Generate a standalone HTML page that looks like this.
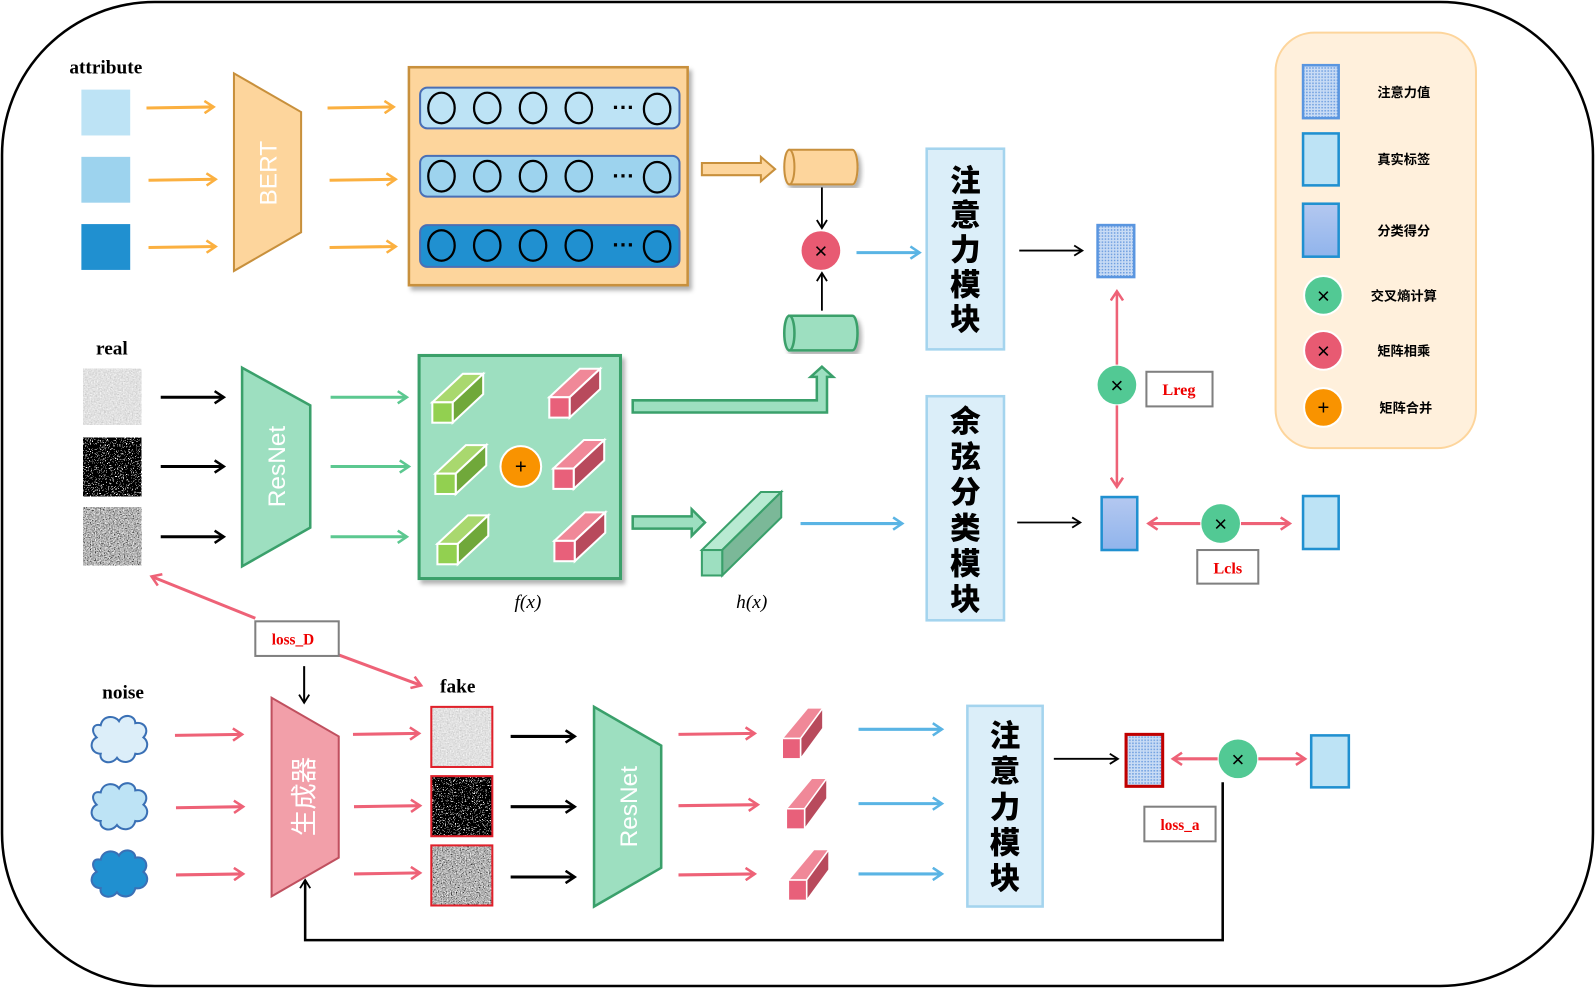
<!DOCTYPE html>
<html><head><meta charset="utf-8"><style>
html,body{margin:0;padding:0;background:#fff}
svg{display:block}
text{font-family:"Liberation Sans","Noto Sans CJK SC",sans-serif}
.serif{font-family:"Liberation Serif","Noto Serif CJK SC",serif}
.cjk{font-family:"Liberation Sans","Noto Sans CJK SC",sans-serif;font-weight:900}
</style></head><body>
<svg width="1595" height="988" viewBox="0 0 1568 970" preserveAspectRatio="none" xmlns="http://www.w3.org/2000/svg">
<defs>
<marker id="mo" markerWidth="14" markerHeight="14" refX="11" refY="7" orient="auto" markerUnits="userSpaceOnUse"><path d="M2,1 L11,7 L2,13" fill="none" stroke="#fbb040" stroke-width="2.5"/></marker>
<marker id="mk" markerWidth="14" markerHeight="14" refX="11" refY="7" orient="auto" markerUnits="userSpaceOnUse"><path d="M2,1 L11,7 L2,13" fill="none" stroke="#000" stroke-width="2.5"/></marker>
<marker id="mk2" markerWidth="12" markerHeight="12" refX="10" refY="6" orient="auto" markerUnits="userSpaceOnUse"><path d="M2,1 L10,6 L2,11" fill="none" stroke="#000" stroke-width="1.8"/></marker>
<marker id="mg" markerWidth="14" markerHeight="14" refX="11" refY="7" orient="auto" markerUnits="userSpaceOnUse"><path d="M2,1 L11,7 L2,13" fill="none" stroke="#5cc890" stroke-width="2.5"/></marker>
<marker id="mb" markerWidth="14" markerHeight="14" refX="11" refY="7" orient="auto" markerUnits="userSpaceOnUse"><path d="M2,1 L11,7 L2,13" fill="none" stroke="#5ab4e4" stroke-width="2.5"/></marker>
<marker id="mp" markerWidth="14" markerHeight="14" refX="11" refY="7" orient="auto" markerUnits="userSpaceOnUse"><path d="M2,1 L11,7 L2,13" fill="none" stroke="#ee6277" stroke-width="2.5"/></marker>
<pattern id="dots" width="3" height="3" patternUnits="userSpaceOnUse"><rect width="3" height="3" fill="#c9dcf5"/><rect width="1.5" height="1.5" fill="#6f9fe0"/></pattern>
<linearGradient id="cls" x1="0" y1="0" x2="0" y2="1"><stop offset="0" stop-color="#b4c8f0"/><stop offset="1" stop-color="#90b4ec"/></linearGradient>
<filter id="n1" x="0" y="0" width="1" height="1"><feTurbulence type="fractalNoise" baseFrequency="0.7" numOctaves="2" seed="3"/><feColorMatrix values="0.3 0.3 0.3 0 0.3 0.3 0.3 0.3 0 0.3 0.3 0.3 0.3 0 0.3 0 0 0 0 1"/></filter>
<filter id="n2" x="0" y="0" width="1" height="1"><feTurbulence type="fractalNoise" baseFrequency="0.9" numOctaves="1" seed="7"/><feColorMatrix values="1 1 1 0 -1.2 1 1 1 0 -1.2 1 1 1 0 -1.2 0 0 0 0 1"/><feComponentTransfer><feFuncR type="discrete" tableValues="0 1"/><feFuncG type="discrete" tableValues="0 1"/><feFuncB type="discrete" tableValues="0 1"/></feComponentTransfer></filter>
<filter id="n3" x="0" y="0" width="1" height="1"><feTurbulence type="fractalNoise" baseFrequency="0.8" numOctaves="2" seed="11"/><feColorMatrix values="0.9 0.9 0.9 0 -0.9 0.9 0.9 0.9 0 -0.9 0.9 0.9 0.9 0 -0.9 0 0 0 0 1"/></filter>
<filter id="sh"><feDropShadow dx="3" dy="4" stdDeviation="2" flood-opacity="0.3"/></filter>
<g id="gc"><polygon points="0,28 30,0 50,0 20,28" fill="#a9d86e" stroke="#fff" stroke-width="2"/><polygon points="20,28 50,0 50,20 20,48" fill="#70a83a" stroke="#fff" stroke-width="2"/><rect x="0" y="28" width="20" height="20" fill="#92d050" stroke="#fff" stroke-width="2"/></g>
<g id="rc"><polygon points="0,28 30,0 50,0 20,28" fill="#f08898" stroke="#fff" stroke-width="2"/><polygon points="20,28 50,0 50,20 20,48" fill="#b84a5c" stroke="#fff" stroke-width="2"/><rect x="0" y="28" width="20" height="20" fill="#e8607a" stroke="#fff" stroke-width="2"/></g>
<g id="rc2"><polygon points="0,30 25,0 40,0 18,30" fill="#f08898" stroke="#fff" stroke-width="1.5"/><polygon points="18,30 40,0 40,20 18,50" fill="#b84a5c" stroke="#fff" stroke-width="1.5"/><rect x="0" y="30" width="18" height="20" fill="#e8607a" stroke="#fff" stroke-width="1.5"/></g>
<path id="cloud" d="M-20,-14 C-18,-24 -6,-24 -2,-18 C2,-26 14,-24 14,-16 C24,-18 28,-8 22,-2 C30,4 24,16 14,14 C12,24 0,24 -4,18 C-10,26 -22,22 -20,14 C-30,14 -32,2 -24,-2 C-30,-8 -28,-16 -20,-14 Z"/>
</defs>

<rect x="2" y="2" width="1564" height="966" rx="150" ry="150" fill="#fff" stroke="#000" stroke-width="2.5"/>

<text x="104" y="72" class="serif" font-size="19" font-weight="bold" text-anchor="middle">attribute</text>
<rect x="80" y="88" width="48" height="45" fill="#bde3f5"/>
<rect x="80" y="154" width="48" height="45" fill="#9dd3ee"/>
<rect x="80" y="220" width="48" height="45" fill="#2090d0"/>
<g stroke="#fbb040" stroke-width="3" marker-end="url(#mo)">
<line x1="144" y1="106" x2="210" y2="105"/><line x1="146" y1="177" x2="212" y2="176"/><line x1="146" y1="243" x2="212" y2="242"/>
<line x1="322" y1="106" x2="387" y2="105"/><line x1="324" y1="177" x2="389" y2="176"/><line x1="324" y1="243" x2="389" y2="242"/>
</g>
<polygon points="230,72 296,110 296,228 230,266" fill="#fdd59c" stroke="#c8903c" stroke-width="2"/>
<text transform="translate(272,170) rotate(-90)" fill="#fff" font-size="24" text-anchor="middle">BERT</text>

<rect x="402" y="66" width="274" height="214" fill="#fdd59c" stroke="#c8903c" stroke-width="2.5" filter="url(#sh)"/>
<g stroke="#4a6fb5" stroke-width="2">
<rect x="413" y="86" width="255" height="40" rx="7" fill="#bde3f5"/>
<rect x="413" y="153" width="255" height="40" rx="7" fill="#9dd3ee"/>
<rect x="413" y="221" width="255" height="41" rx="7" fill="#2090d0"/>
</g>
<g fill="none" stroke="#000" stroke-width="2.2">
<ellipse cx="434" cy="106" rx="13" ry="15"/><ellipse cx="479" cy="106" rx="13" ry="15"/><ellipse cx="524" cy="106" rx="13" ry="15"/><ellipse cx="569" cy="106" rx="13" ry="15"/><ellipse cx="646" cy="107" rx="13" ry="15"/>
<ellipse cx="434" cy="173" rx="13" ry="15"/><ellipse cx="479" cy="173" rx="13" ry="15"/><ellipse cx="524" cy="173" rx="13" ry="15"/><ellipse cx="569" cy="173" rx="13" ry="15"/><ellipse cx="646" cy="174" rx="13" ry="15"/>
<ellipse cx="434" cy="241" rx="13" ry="15"/><ellipse cx="479" cy="241" rx="13" ry="15"/><ellipse cx="524" cy="241" rx="13" ry="15"/><ellipse cx="569" cy="241" rx="13" ry="15"/><ellipse cx="646" cy="242" rx="13" ry="15"/>
</g>
<g font-size="22" font-weight="bold" text-anchor="middle"><text x="613" y="113">···</text><text x="613" y="180">···</text><text x="613" y="248">···</text></g>

<polygon points="690,160 748,160 748,154 762,166 748,178 748,172 690,172" fill="#fdd59c" stroke="#c8903c" stroke-width="2"/>
<g filter="url(#sh)"><path d="M776,147 L838,147 A5,17 0 0 1 838,181 L776,181 Z" fill="#fdd59c" stroke="#c8903c" stroke-width="2"/><ellipse cx="776" cy="164" rx="5" ry="17" fill="#fdd59c" stroke="#c8903c" stroke-width="2"/></g>
<line x1="808" y1="184" x2="808" y2="224" stroke="#000" stroke-width="1.8" marker-end="url(#mk2)"/>
<circle cx="807" cy="246" r="19" fill="#e85a72"/>
<text x="807" y="254" font-size="22" text-anchor="middle">×</text>
<line x1="808" y1="305" x2="808" y2="268" stroke="#000" stroke-width="1.8" marker-end="url(#mk2)"/>
<g filter="url(#sh)"><path d="M776,310 L838,310 A5,17 0 0 1 838,344 L776,344 Z" fill="#9ddfc0" stroke="#3aa06b" stroke-width="2.5"/><ellipse cx="776" cy="327" rx="5" ry="17" fill="#9ddfc0" stroke="#3aa06b" stroke-width="2.5"/></g>
<line x1="842" y1="248" x2="904" y2="248" stroke="#5ab4e4" stroke-width="3" marker-end="url(#mb)"/>

<rect x="911" y="146" width="76" height="197" fill="#dbeef9" stroke="#a4d4ee" stroke-width="2.5"/>
<g class="cjk" font-size="30" text-anchor="middle"><text x="949" y="188">注</text><text x="949" y="222">意</text><text x="949" y="256">力</text><text x="949" y="290">模</text><text x="949" y="324">块</text></g>
<line x1="1002" y1="246" x2="1064" y2="246" stroke="#000" stroke-width="1.8" marker-end="url(#mk2)"/>
<rect x="1079" y="221" width="36" height="51" fill="url(#dots)" stroke="#5a96e0" stroke-width="2.5"/>
<g stroke="#ee6277" stroke-width="2.5"><line x1="1098" y1="358" x2="1098" y2="286" marker-end="url(#mp)"/><line x1="1098" y1="398" x2="1098" y2="478" marker-end="url(#mp)"/></g>
<circle cx="1098" cy="378" r="19" fill="#52c994"/>
<text x="1098" y="386" font-size="22" text-anchor="middle">×</text>
<rect x="1127" y="365" width="65" height="34" fill="#fff" stroke="#808080" stroke-width="2"/>
<text x="1159" y="388" class="serif" font-size="16" font-weight="bold" fill="#e00" text-anchor="middle">Lreg</text>

<rect x="1254" y="32" width="197" height="408" rx="38" fill="#fff0dc" stroke="#fdd59c" stroke-width="2"/>
<rect x="1281" y="64" width="35" height="52" fill="url(#dots)" stroke="#5a96e0" stroke-width="2.5"/>
<rect x="1281" y="131" width="35" height="51" fill="#bde3f5" stroke="#2090d0" stroke-width="2.5"/>
<rect x="1281" y="200" width="35" height="52" fill="url(#cls)" stroke="#2090d0" stroke-width="2.5"/>
<circle cx="1301" cy="290" r="19" fill="#52c994" stroke="#fff" stroke-width="2"/><text x="1301" y="298" font-size="22" text-anchor="middle">×</text>
<circle cx="1301" cy="344" r="19" fill="#e85a72" stroke="#fff" stroke-width="2"/><text x="1301" y="352" font-size="22" text-anchor="middle">×</text>
<circle cx="1301" cy="400" r="19" fill="#f99300" stroke="#fff" stroke-width="2"/><text x="1301" y="407" font-size="20" text-anchor="middle">+</text>
<g font-size="13" text-anchor="middle" font-weight="bold"><text x="1380" y="95">注意力值</text><text x="1380" y="161">真实标签</text><text x="1380" y="231">分类得分</text><text x="1380" y="295">交叉熵计算</text><text x="1380" y="349">矩阵相乘</text><text x="1382" y="405">矩阵合并</text></g>

<text x="110" y="348" class="serif" font-size="19" font-weight="bold" text-anchor="middle">real</text>
<rect x="82" y="362" width="57" height="55" filter="url(#n1)"/>
<rect x="82" y="430" width="57" height="57" filter="url(#n2)"/>
<rect x="82" y="498" width="57" height="57" filter="url(#n3)"/>
<g stroke="#000" stroke-width="3" marker-end="url(#mk)"><line x1="158" y1="390" x2="220" y2="390"/><line x1="158" y1="458" x2="220" y2="458"/><line x1="158" y1="527" x2="220" y2="527"/></g>
<polygon points="238,361 305,398 305,518 238,556" fill="#9ddfc0" stroke="#3aa06b" stroke-width="2.5"/>
<text transform="translate(280,458) rotate(-90)" fill="#fff" font-size="24" text-anchor="middle">ResNet</text>
<g stroke="#5cc890" stroke-width="3" marker-end="url(#mg)"><line x1="325" y1="390" x2="400" y2="390"/><line x1="325" y1="458" x2="402" y2="458"/><line x1="325" y1="527" x2="400" y2="527"/></g>
<rect x="412" y="349" width="198" height="219" fill="#9ddfc0" stroke="#3aa06b" stroke-width="3" filter="url(#sh)"/>
<use href="#gc" x="425" y="367"/><use href="#gc" x="428" y="437"/><use href="#gc" x="430" y="506"/>
<use href="#rc" x="540" y="362"/><use href="#rc" x="544" y="432"/><use href="#rc" x="545" y="503"/>
<circle cx="512" cy="458" r="20" fill="#f99300" stroke="#fff" stroke-width="2"/><text x="512" y="465" font-size="20" text-anchor="middle">+</text>
<polygon points="622,393 803,393 803,370 797,370 808,360 819,370 813,370 813,405 622,405" fill="#9ddfc0" stroke="#3aa06b" stroke-width="2.5"/>
<polygon points="622,507 680,507 680,500 693,513 680,526 680,519 622,519" fill="#9ddfc0" stroke="#3aa06b" stroke-width="2.5"/>
<polygon points="690,540 748,483 768,483 710,540" fill="#b8ead2" stroke="#3aa06b" stroke-width="2"/>
<polygon points="710,540 768,483 768,508 710,565" fill="#7bb898" stroke="#3aa06b" stroke-width="2"/>
<rect x="690" y="540" width="20" height="25" fill="#9ddfc0" stroke="#3aa06b" stroke-width="2"/>
<text x="519" y="597" class="serif" font-size="19" font-style="italic" text-anchor="middle">f(x)</text>
<text x="739" y="597" class="serif" font-size="19" font-style="italic" text-anchor="middle">h(x)</text>
<line x1="787" y1="514" x2="887" y2="514" stroke="#5ab4e4" stroke-width="3" marker-end="url(#mb)"/>

<rect x="911" y="389" width="76" height="220" fill="#dbeef9" stroke="#a4d4ee" stroke-width="2.5"/>
<g class="cjk" font-size="30" text-anchor="middle"><text x="949" y="424">余</text><text x="949" y="459">弦</text><text x="949" y="494">分</text><text x="949" y="529">类</text><text x="949" y="564">模</text><text x="949" y="599">块</text></g>
<line x1="1000" y1="513" x2="1062" y2="513" stroke="#000" stroke-width="1.8" marker-end="url(#mk2)"/>
<rect x="1083" y="488" width="35" height="52" fill="url(#cls)" stroke="#2090d0" stroke-width="2.5"/>
<g stroke="#ee6277" stroke-width="3"><line x1="1180" y1="514" x2="1129" y2="514" marker-end="url(#mp)"/><line x1="1220" y1="514" x2="1268" y2="514" marker-end="url(#mp)"/></g>
<circle cx="1200" cy="514" r="19" fill="#52c994"/><text x="1200" y="522" font-size="22" text-anchor="middle">×</text>
<rect x="1281" y="487" width="35" height="52" fill="#bde3f5" stroke="#2090d0" stroke-width="2.5"/>
<rect x="1177" y="540" width="60" height="33" fill="#fff" stroke="#808080" stroke-width="2"/>
<text x="1207" y="563" class="serif" font-size="16" font-weight="bold" fill="#e00" text-anchor="middle">Lcls</text>

<g stroke="#ee6277" stroke-width="3"><line x1="251" y1="607" x2="149" y2="566" marker-end="url(#mp)"/><line x1="333" y1="643" x2="414" y2="673" marker-end="url(#mp)"/></g>
<rect x="251" y="610" width="82" height="34" fill="#fff" stroke="#808080" stroke-width="2"/>
<text x="288" y="633" class="serif" font-size="15" font-weight="bold" fill="#e00" text-anchor="middle">loss_D</text>
<line x1="299" y1="654" x2="299" y2="690" stroke="#000" stroke-width="2" marker-end="url(#mk2)"/>

<text x="121" y="686" class="serif" font-size="19" font-weight="bold" text-anchor="middle">noise</text>
<text x="450" y="680" class="serif" font-size="19" font-weight="bold" text-anchor="middle">fake</text>
<use href="#cloud" transform="translate(119,726)" fill="#dceef9" stroke="#3a70b5" stroke-width="2"/>
<use href="#cloud" transform="translate(119,792)" fill="#bde3f5" stroke="#3a70b5" stroke-width="2"/>
<use href="#cloud" transform="translate(119,858)" fill="#2090d0" stroke="#3a70b5" stroke-width="2"/>
<g stroke="#ee6277" stroke-width="3" marker-end="url(#mp)">
<line x1="172" y1="722" x2="238" y2="721"/><line x1="173" y1="793" x2="239" y2="792"/><line x1="173" y1="859" x2="239" y2="858"/>
<line x1="347" y1="721" x2="412" y2="720"/><line x1="348" y1="792" x2="413" y2="791"/><line x1="348" y1="858" x2="413" y2="857"/>
<line x1="667" y1="721" x2="742" y2="720"/><line x1="667" y1="791" x2="745" y2="790"/><line x1="667" y1="859" x2="742" y2="858"/>
</g>
<polygon points="267,685 333,723 333,842 267,880" fill="#f29fa9" stroke="#c0505f" stroke-width="2"/>
<text transform="translate(308,782) rotate(-90)" fill="#fff" font-size="26" text-anchor="middle" font-family="'Noto Sans CJK SC',sans-serif">生成器</text>
<rect x="424" y="694" width="60" height="59" filter="url(#n1)"/><rect x="424" y="694" width="60" height="59" fill="none" stroke="#e0202a" stroke-width="2"/>
<rect x="424" y="762" width="60" height="59" filter="url(#n2)"/><rect x="424" y="762" width="60" height="59" fill="none" stroke="#e0202a" stroke-width="2"/>
<rect x="424" y="830" width="60" height="59" filter="url(#n3)"/><rect x="424" y="830" width="60" height="59" fill="none" stroke="#e0202a" stroke-width="2"/>
<g stroke="#000" stroke-width="3" marker-end="url(#mk)"><line x1="502" y1="723" x2="565" y2="723"/><line x1="502" y1="792" x2="565" y2="792"/><line x1="502" y1="861" x2="565" y2="861"/></g>
<polygon points="584,694 650,732 650,852 584,890" fill="#9ddfc0" stroke="#3aa06b" stroke-width="2.5"/>
<text transform="translate(626,792) rotate(-90)" fill="#fff" font-size="24" text-anchor="middle">ResNet</text>
<use href="#rc2" x="769" y="695"/><use href="#rc2" x="773" y="764"/><use href="#rc2" x="775" y="834"/>
<g stroke="#5ab4e4" stroke-width="3" marker-end="url(#mb)"><line x1="844" y1="716" x2="926" y2="716"/><line x1="844" y1="789" x2="926" y2="789"/><line x1="844" y1="858" x2="926" y2="858"/></g>
<rect x="951" y="693" width="74" height="197" fill="#dbeef9" stroke="#a4d4ee" stroke-width="2.5"/>
<g class="cjk" font-size="30" text-anchor="middle"><text x="988" y="733">注</text><text x="988" y="768">意</text><text x="988" y="803">力</text><text x="988" y="838">模</text><text x="988" y="873">块</text></g>
<line x1="1036" y1="745" x2="1099" y2="745" stroke="#000" stroke-width="1.8" marker-end="url(#mk2)"/>
<rect x="1107" y="721" width="36" height="51" fill="url(#dots)" stroke="#c00000" stroke-width="3"/>
<g stroke="#ee6277" stroke-width="3"><line x1="1197" y1="745" x2="1153" y2="745" marker-end="url(#mp)"/><line x1="1237" y1="745" x2="1283" y2="745" marker-end="url(#mp)"/></g>
<circle cx="1217" cy="745" r="19" fill="#52c994"/><text x="1217" y="753" font-size="22" text-anchor="middle">×</text>
<rect x="1289" y="722" width="37" height="51" fill="#bde3f5" stroke="#2090d0" stroke-width="2.5"/>
<rect x="1125" y="792" width="70" height="34" fill="#fff" stroke="#808080" stroke-width="2"/>
<text x="1160" y="815" class="serif" font-size="15" font-weight="bold" fill="#e00" text-anchor="middle">loss_a</text>
<polyline points="1202,768 1202,923 300,923 300,864" fill="none" stroke="#000" stroke-width="2.5" marker-end="url(#mk2)"/>
</svg>
</body></html>
